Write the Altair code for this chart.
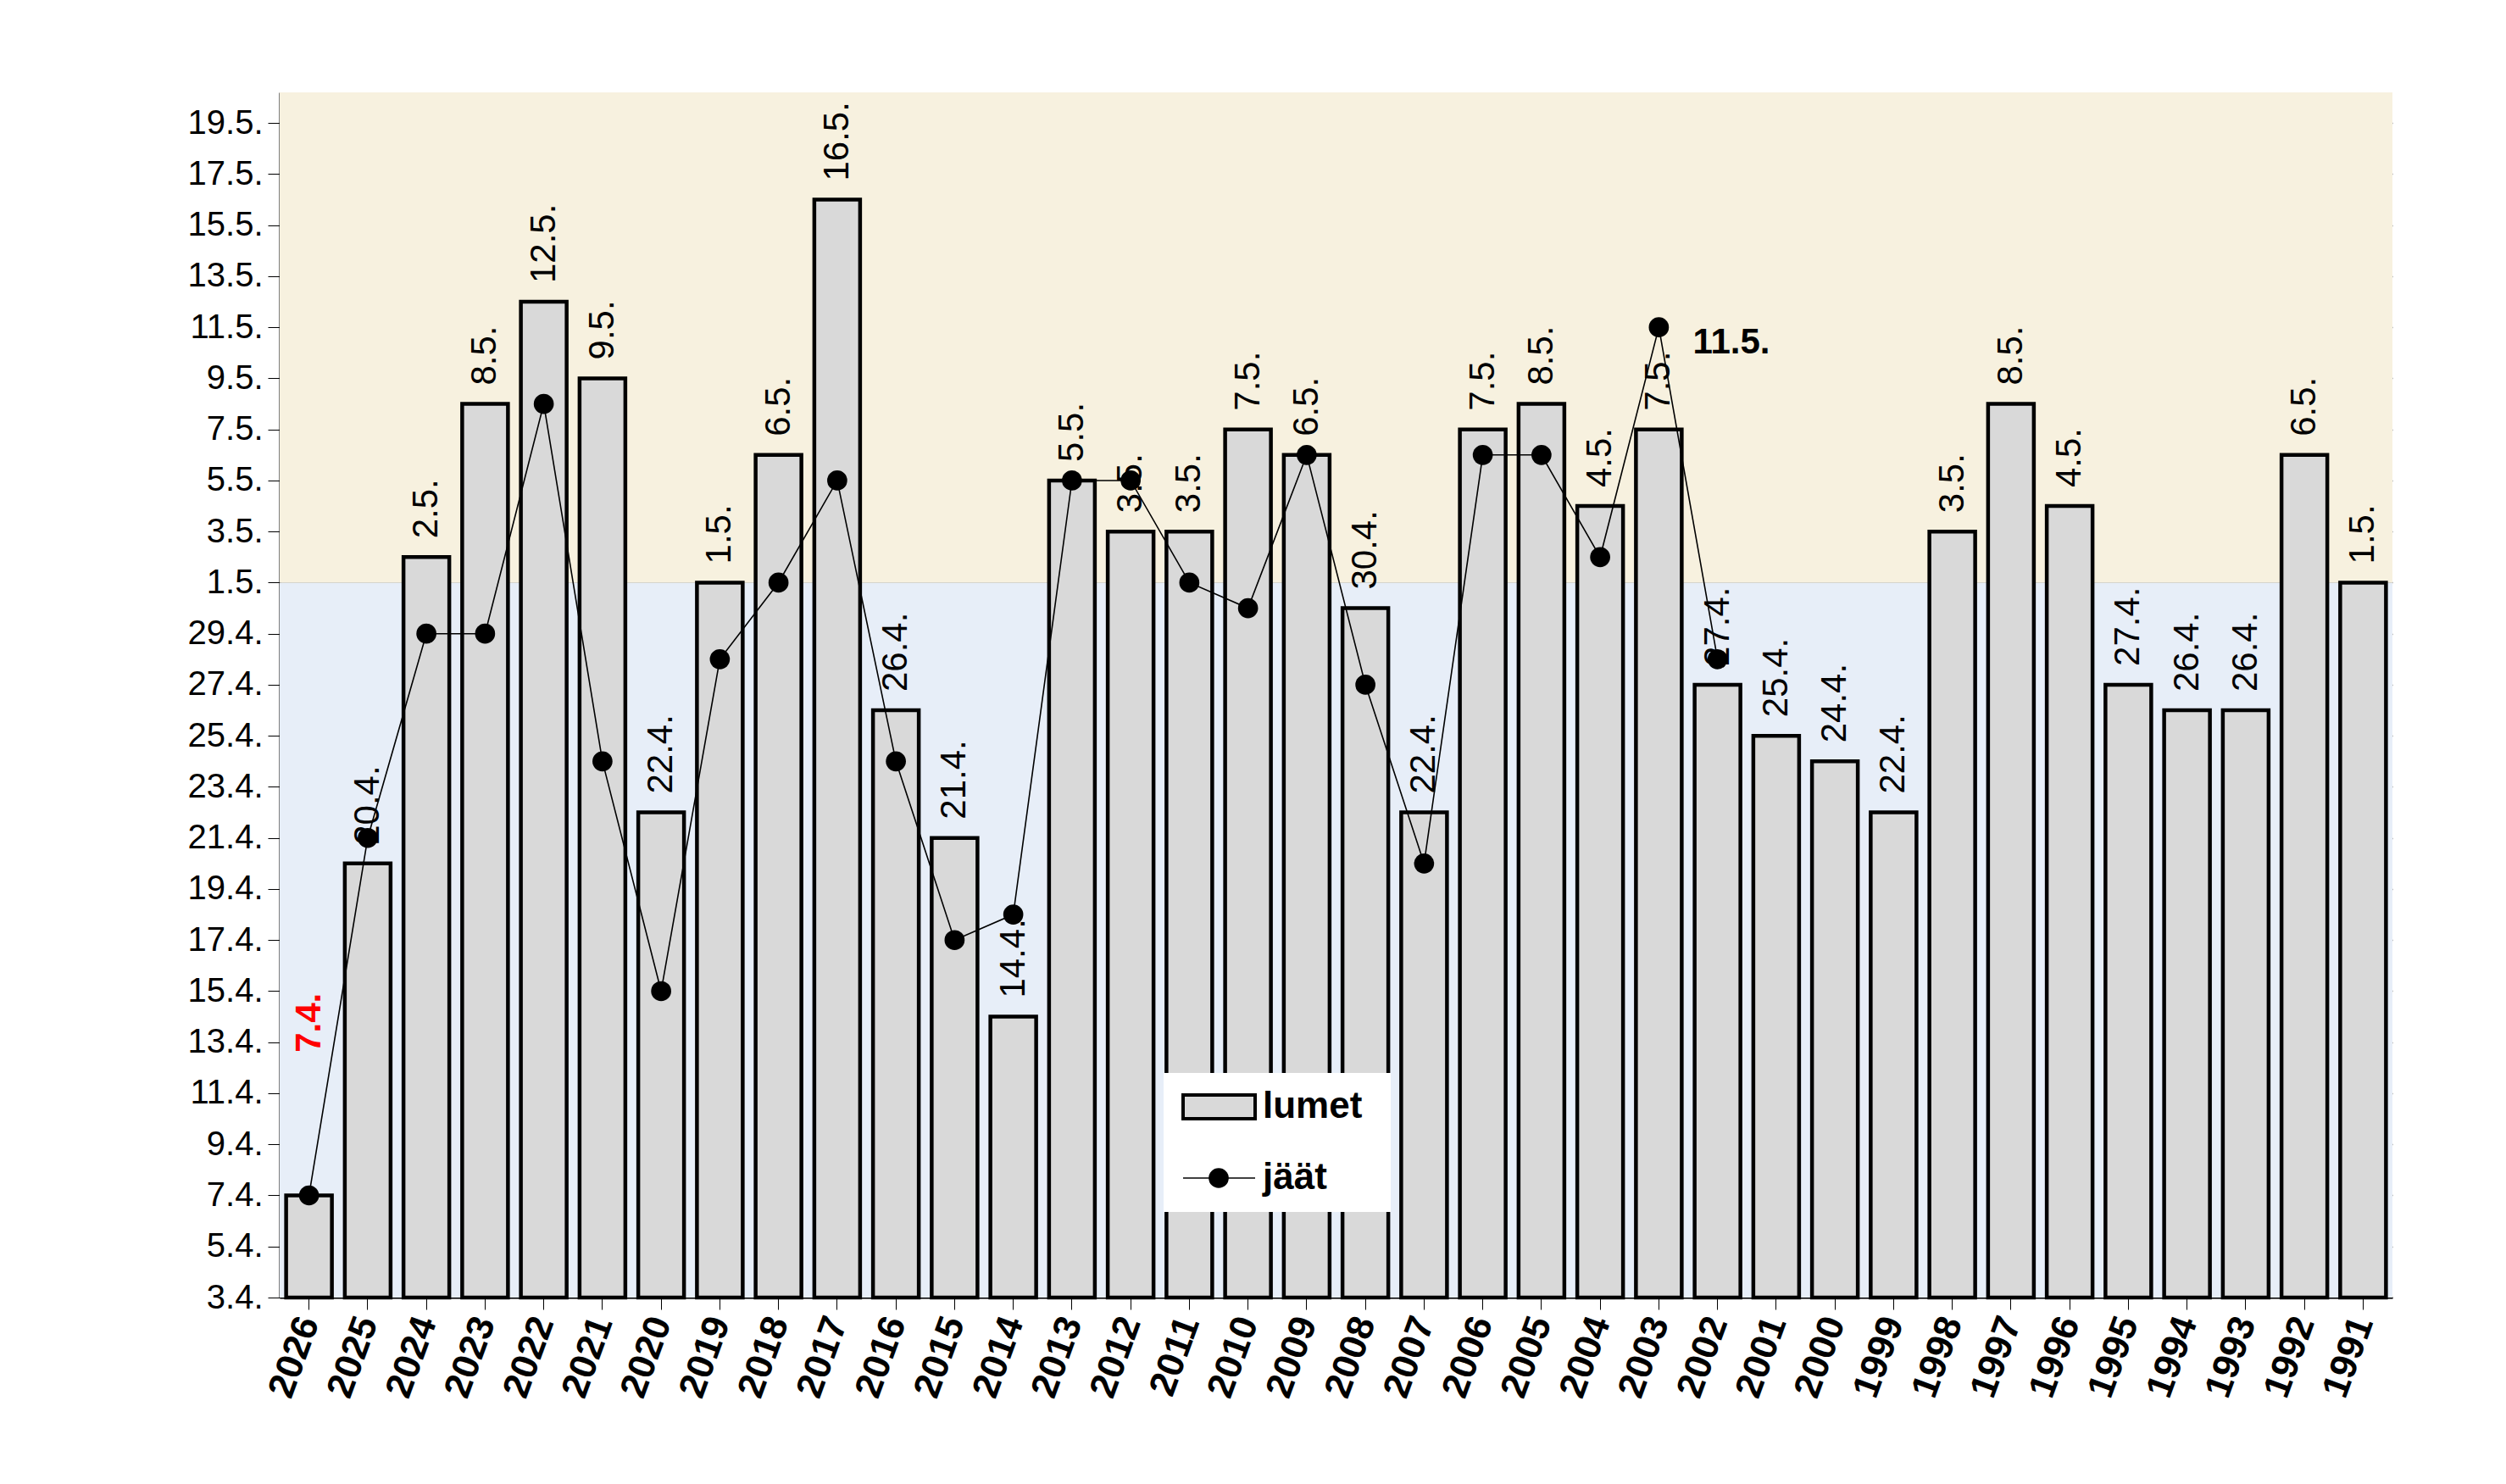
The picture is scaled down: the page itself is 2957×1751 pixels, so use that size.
import altair as alt
import pandas as pd

years = [str(y) for y in range(2026, 1990, -1)]
lumet = ["7.4.","20.4.","2.5.","8.5.","12.5.","9.5.","22.4.","1.5.","6.5.","16.5.","26.4.","21.4.","14.4.",
         "5.5.","3.5.","3.5.","7.5.","6.5.","30.4.","22.4.","7.5.","8.5.","4.5.","7.5.","27.4.","25.4.",
         "24.4.","22.4.","3.5.","8.5.","4.5.","27.4.","26.4.","26.4.","6.5.","1.5."]
jaat_years = [str(y) for y in range(2026, 2001, -1)]
jaat = ["7.4.","21.4.","29.4.","29.4.","8.5.","24.4.","15.4.","28.4.","1.5.","5.5.","24.4.","17.4.","18.4.",
        "5.5.","5.5.","1.5.","30.4.","6.5.","27.4.","20.4.","6.5.","6.5.","2.5.","11.5.","28.4."]

def day(s):
    d, m = s.strip(".").split(".")
    return int(d) + (30 if m == "5" else 0)

bars = pd.DataFrame({"year": years, "v": [day(s) for s in lumet], "lab": lumet})
bars["lab2"] = [l if y != "2026" else "" for y, l in zip(years, lumet)]
pts = pd.DataFrame({"year": jaat_years, "v": [day(s) for s in jaat]})

W, H = 2493, 1422
FONT = "Liberation Sans"
ydom = [3, 50.2]
yscale = alt.Scale(domain=ydom, nice=False, zero=False)
yaxis = alt.Axis(title=None, values=list(range(3, 50, 2)), labelFontSize=40, labelFont=FONT,
                 labelColor="black", grid=True, gridColor="#7f7f7f", gridWidth=1.5,
                 domainColor="black", domainWidth=2, tickColor="black", tickSize=14, labelPadding=6,
                 labelExpr="datum.value <= 30 ? datum.value + '.4.' : (datum.value - 30) + '.5.'")
xs = alt.X("year:N", sort=years, scale=alt.Scale(paddingInner=0.22, paddingOuter=0.11),
           axis=alt.Axis(title=None, labelAngle=-70, labelFontSize=44, labelFontWeight="bold",
                         labelColor="black", labelFont=FONT, domainColor="black", domainWidth=2,
                         tickColor="black", tickSize=14, labelPadding=10, labelAlign="right",
                         labelBaseline="middle"))
ys = alt.Y("v:Q", scale=yscale, axis=yaxis)

bands = pd.DataFrame({"y1": [3, 31], "y2": [31, 50.2], "c": ["#E7EEF8", "#F7F1DF"]})
bg = alt.Chart(bands).mark_rect().encode(
    x=alt.value(0), x2=alt.value(W),
    y=alt.Y("y1:Q", scale=yscale, axis=yaxis), y2="y2:Q", color=alt.Color("c:N", scale=None))

barm = alt.Chart(bars).mark_bar(color="#D9D9D9", stroke="black", strokeWidth=4.5).encode(
    x=xs, y=ys, y2=alt.datum(3))
btxt = alt.Chart(bars).mark_text(angle=270, align="left", baseline="middle", dx=22, fontSize=42, font=FONT,
                                 color="black").encode(x=xs, y=ys, text="lab2:N")
red = alt.Chart(bars[bars.year == "2026"]).mark_text(angle=270, align="left", baseline="middle", fontSize=42,
                                                     font=FONT, fontWeight="bold", color="red").encode(
    x=xs, y=alt.datum(12.6), text="lab:N")
line = alt.Chart(pts).mark_line(color="black", strokeWidth=1.6).encode(x=xs, y=ys)
dots = alt.Chart(pts).mark_point(filled=True, color="black", size=560, opacity=1).encode(x=xs, y=ys)
ann = alt.Chart(pts[pts.year == "2003"]).mark_text(align="left", baseline="middle", dx=40, dy=18, fontSize=42,
                                                   fontWeight="bold", font=FONT, color="black").encode(
    x=xs, y=ys, text=alt.value("11.5."))

one = pd.DataFrame({"a": [0]})
lbox = alt.Chart(one).mark_rect(color="white").encode(x=alt.value(1043), x2=alt.value(1311),
                                                      y=alt.value(1157), y2=alt.value(1321))
lrect = alt.Chart(one).mark_rect(color="#D9D9D9", stroke="black", strokeWidth=4).encode(
    x=alt.value(1066), x2=alt.value(1151), y=alt.value(1183), y2=alt.value(1211))
lline = alt.Chart(one).mark_rule(color="black", strokeWidth=1.6).encode(
    x=alt.value(1066), x2=alt.value(1151), y=alt.value(1281))
ldot = alt.Chart(one).mark_point(filled=True, color="black", size=560, opacity=1).encode(
    x=alt.value(1108), y=alt.value(1281))
lt1 = alt.Chart(one).mark_text(align="left", baseline="middle", fontSize=44, fontWeight="bold", font=FONT).encode(
    x=alt.value(1160), y=alt.value(1197), text=alt.value("lumet"))
lt2 = alt.Chart(one).mark_text(align="left", baseline="middle", fontSize=44, fontWeight="bold", font=FONT).encode(
    x=alt.value(1160), y=alt.value(1281), text=alt.value("jäät"))

chart = alt.layer(bg, barm, btxt, red, line, dots, ann, lbox, lrect, lline, ldot, lt1, lt2).properties(
    width=W, height=H, background="white",
    autosize=alt.AutoSizeParams(type="none"),
    padding={"left": 322, "top": 101, "right": 118, "bottom": 212},
).configure_view(stroke=None)

chart.save("out.html", embed_options={"renderer": "svg", "actions": False})
